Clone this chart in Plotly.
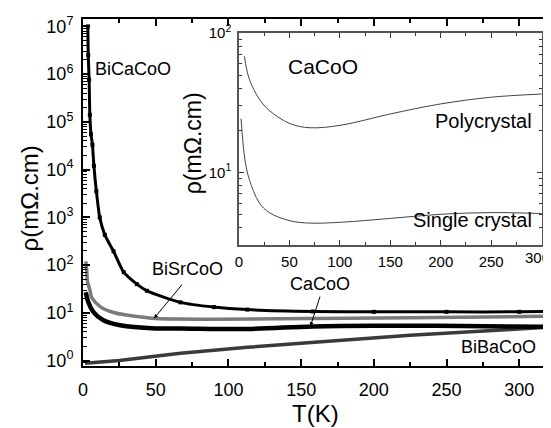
import numpy as np
import plotly.graph_objects as go

# ---------------- data ----------------
T_bica = [3.3, 3.6, 4.2, 4.7, 5.5, 6.5, 7.5, 9.2, 11.5, 15, 21, 28, 37, 44, 67, 90, 113, 158, 200, 250, 300, 323]
R_bica = [1.0e7, 2.5e6, 7.6e5, 1.4e5, 5.5e4, 3.3e4, 1.2e4, 3.5e3, 1.0e3, 4.3e2, 1.95e2, 71, 40, 29, 16.6, 13.2, 11.7, 10.7, 10.5, 10.5, 10.5, 10.7]

T_bisr = [1.9, 2.6, 3.0, 4.9, 6.0, 11.8, 21, 44, 50, 90, 158, 225, 323]
R_bisr = [120, 76, 47, 29, 21, 13.5, 10.2, 7.9, 7.6, 7.35, 7.6, 7.9, 8.5]

T_caco = [1.9, 3.7, 7.2, 14, 25.5, 50, 67, 113, 158, 200, 260, 323]
R_caco = [27, 16.6, 10.4, 7.0, 5.5, 4.72, 4.7, 4.6, 5.2, 5.4, 5.3, 5.1]

T_biba = [1.4, 25, 67, 113, 157, 225, 294, 323]
R_biba = [0.88, 1.0, 1.42, 1.9, 2.4, 3.4, 4.5, 5.1]

# inset: CaCoO polycrystal and single crystal
T_poly = [5.3, 10.2, 20, 30, 50.5, 70.3, 101, 150.5, 200, 249.5, 300]
R_poly = [68.2, 46.7, 33.7, 27.8, 22.4, 20.9, 21.8, 26.3, 31.0, 34.6, 36.5]
T_sing = [2, 5.9, 10.2, 20, 30, 50.5, 70.3, 101, 150.5, 200, 249.5, 300]
R_sing = [24.3, 12.3, 8.9, 6.06, 5.14, 4.49, 4.32, 4.38, 4.67, 5.0, 5.14, 5.06]

main_ytickvals = [1, 10, 100, 1e3, 1e4, 1e5, 1e6, 1e7]
main_yticktext = ["10<sup>0</sup>", "10<sup>1</sup>", "10<sup>2</sup>", "10<sup>3</sup>",
                  "10<sup>4</sup>", "10<sup>5</sup>", "10<sup>6</sup>", "10<sup>7</sup>"]
inset_ytickvals = [10, 100]
inset_yticktext = ["10<sup>1</sup>", "10<sup>2</sup>"]
x_tickvals = [0, 50, 100, 150, 200, 250, 300]

FONT = "Arial, Liberation Sans, sans-serif"

# page has an 8px body margin; figure is sized/placed to compensate
OFF = 8
FW, FH = 551 - OFF, 428 - OFF
ML, MT, MB = 75, 6, 62
PW, PH = FW - ML, FH - MT - MB

fig = go.Figure()

fig.add_trace(go.Scatter(x=T_biba, y=R_biba, mode="lines", line=dict(color="#3a3a3a", width=3.5),
                         xaxis="x", yaxis="y", showlegend=False))
fig.add_trace(go.Scatter(x=T_caco, y=R_caco, mode="lines", line=dict(color="black", width=4.5, shape="spline"),
                         xaxis="x", yaxis="y", showlegend=False))
fig.add_trace(go.Scatter(x=T_bisr, y=R_bisr, mode="lines",
                         line=dict(color="#7a7a7a", width=3.5, shape="spline"),
                         xaxis="x", yaxis="y", showlegend=False))
fig.add_trace(go.Scatter(x=T_bica, y=R_bica, mode="lines+markers",
                         line=dict(color="black", width=3, shape="spline", smoothing=0.6),
                         marker=dict(symbol="square", size=4, color="black"),
                         xaxis="x", yaxis="y", showlegend=False))

fig.add_trace(go.Scatter(x=T_poly, y=R_poly, mode="lines", line=dict(color="#444", width=1, shape="spline"),
                         xaxis="x2", yaxis="y2", showlegend=False))
fig.add_trace(go.Scatter(x=T_sing, y=R_sing, mode="lines", line=dict(color="#444", width=1, shape="spline"),
                         xaxis="x2", yaxis="y2", showlegend=False))

def minor_log(lo, hi):
    vals = []
    for d in range(lo, hi):
        for k in range(2, 10):
            vals.append(k * 10 ** d)
    return vals

def px(x):  # page pixel -> paper fraction
    return (x - OFF - ML) / PW
def py(y):
    return (MT + PH - (y - OFF)) / PH

fig.update_layout(
    width=FW, height=FH,
    margin=dict(l=ML, r=0, t=MT, b=MB),
    paper_bgcolor="white", plot_bgcolor="white",
    font=dict(family=FONT, color="black"),
    xaxis=dict(domain=[0, 1], range=[0, 321.8], tickvals=x_tickvals, ticks="inside", ticklen=7,
               tickwidth=1.5, tickcolor="black", showline=True, linewidth=2, linecolor="black",
               mirror="ticks", showgrid=False, zeroline=False, tickfont=dict(size=18),
               ticklabelstandoff=6,
               minor=dict(tickvals=[25, 75, 125, 175, 225, 275, 325], ticks="inside", ticklen=4,
                          tickwidth=1.5, tickcolor="black")),
    yaxis=dict(domain=[0, 1], type="log", range=[-0.113, 7.155], tickvals=main_ytickvals,
               ticktext=main_yticktext, ticks="inside", ticklen=7, tickwidth=1.5, tickcolor="black",
               showline=True, linewidth=2, linecolor="black", mirror=False, showgrid=False,
               zeroline=False, tickfont=dict(size=18), ticklabelstandoff=4,
               minor=dict(tickvals=minor_log(-1, 7), ticks="inside", ticklen=4, tickwidth=1,
                          tickcolor="black")),
    xaxis2=dict(domain=[px(239), px(542)], anchor="y2", range=[0, 300.4], tickvals=x_tickvals,
                ticks="inside", ticklen=5, tickwidth=1, tickcolor="#333", showline=True,
                linewidth=1.5, linecolor="#555", mirror="ticks", showgrid=False, zeroline=False,
                tickfont=dict(size=15), ticklabelstandoff=3,
                minor=dict(tickvals=[25, 75, 125, 175, 225, 275], ticks="inside", ticklen=3,
                           tickwidth=1, tickcolor="#333")),
    yaxis2=dict(domain=[py(243), py(28)], anchor="x2", type="log", range=[np.log10(3.02), 2.002],
                tickvals=inset_ytickvals, ticktext=inset_yticktext, ticks="inside", ticklen=5,
                tickwidth=1, tickcolor="#333", showline=True, linewidth=1.5, linecolor="#555",
                mirror="ticks", showgrid=False, zeroline=False, tickfont=dict(size=15),
                ticklabelstandoff=3,
                minor=dict(tickvals=minor_log(0, 2), ticks="inside", ticklen=3, tickwidth=1,
                           tickcolor="#333")),
)

ann = []
def txt(x, y, s, size, xref="x", yref="y", xanchor="center"):
    ann.append(dict(x=x, y=y, xref=xref, yref=yref, text=s, showarrow=False,
                    font=dict(size=size, family=FONT, color="black"), xanchor=xanchor, yanchor="middle"))

txt(6.9, 6.10, "BiCaCoO", 18, xanchor="left")
txt(71.7, 1.92, "BiSrCoO", 18)
txt(163.3, 1.61, "CaCoO", 18)
txt(285.7, 0.289, "BiBaCoO", 18)
txt(83.7, 1.761, "CaCoO", 21, xref="x2", yref="y2")
txt(292, 1.371, "Polycrystal", 20, xref="x2", yref="y2", xanchor="right")
txt(292, 0.655, "Single crystal", 20, xref="x2", yref="y2", xanchor="right")

# inset's last x tick label sits at the page edge; draw it right-aligned inside the page
ann.append(dict(x=px(551), y=py(256), xref="paper", yref="paper", text=str(x_tickvals[-1]),
                showarrow=False, font=dict(size=15, family=FONT, color="black"),
                xanchor="right", yanchor="middle", borderpad=0))

# arrows
ann.append(dict(x=48.9, y=0.887, xref="x", yref="y", ax=29, ay=-35, axref="pixel", ayref="pixel",
                text="", showarrow=True, arrowhead=2, arrowsize=0.8, arrowwidth=1, arrowcolor="black"))
ann.append(dict(x=156.4, y=0.722, xref="x", yref="y", ax=10, ay=-31, axref="pixel", ayref="pixel",
                text="", showarrow=True, arrowhead=2, arrowsize=0.8, arrowwidth=1, arrowcolor="black"))

# axis titles
ann.append(dict(x=px(315.5), y=py(414), xref="paper", yref="paper", text="T(K)", showarrow=False,
                font=dict(size=24, family=FONT, color="black"), xanchor="center", yanchor="middle"))
ann.append(dict(x=px(29), y=py(196), xref="paper", yref="paper", text="ρ(mΩ.cm)", showarrow=False,
                textangle=-90, font=dict(size=24, family=FONT, color="black"),
                xanchor="center", yanchor="middle"))
ann.append(dict(x=px(193), y=py(140), xref="paper", yref="paper", text="ρ(mΩ.cm)", showarrow=False,
                textangle=-90, font=dict(size=23, family=FONT, color="black"),
                xanchor="center", yanchor="middle"))

fig.update_layout(annotations=ann)
fig.write_html("out.html")
